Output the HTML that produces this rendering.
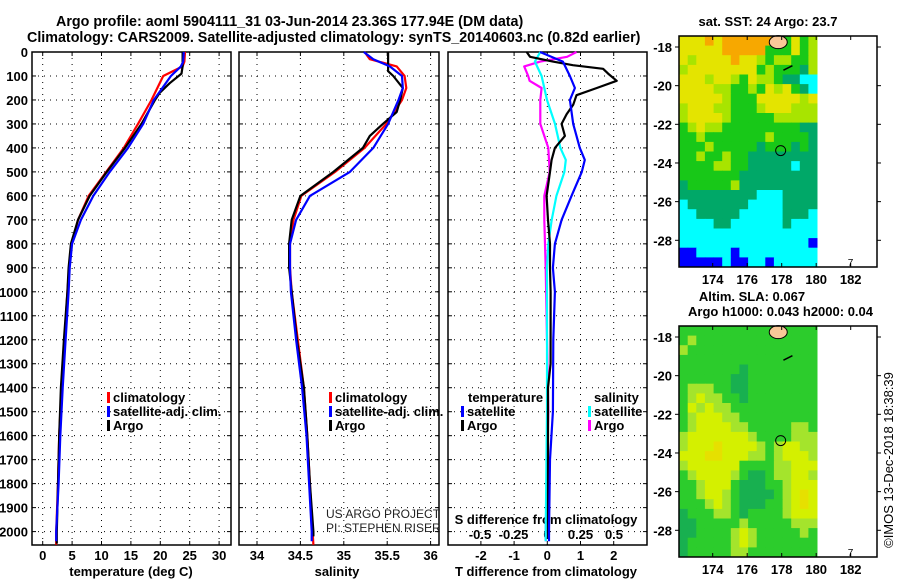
<!DOCTYPE html>
<html><head><meta charset="utf-8"><style>
html,body{margin:0;padding:0;background:#fff;}
svg{display:block;font-family:"Liberation Sans",Arial,sans-serif;}
.b{font-weight:bold;}
</style></head><body>
<svg id="fig" width="900" height="580" viewBox="0 0 900 580" xmlns="http://www.w3.org/2000/svg">
<g class="b" font-size="14.3">
<text x="56" y="26">Argo profile: aoml 5904111_31 03-Jun-2014 23.36S 177.94E (DM data)</text>
<text x="27" y="42">Climatology: CARS2009. Satellite-adjusted climatology: synTS_20140603.nc (0.82d earlier)</text>
</g>
<g id="plots"></g>
</svg>
<script>
// ---------- data ----------
const depthTicks=[0,100,200,300,400,500,600,700,800,900,1000,1100,1200,1300,1400,1500,1600,1700,1800,1900,2000];
const tempTicks=[0,5,10,15,20,25,30];
const salTicks=[34,34.5,35,35.5,36];
const salTickLabels=["34","34.5","35","35.5","36"];
const tdiffTicks=[-2,-1,0,1,2];
const sdiffTicks=[-0.5,-0.25,0,0.25,0.5];
const sdiffTickLabels=["-0.5","-0.25","0","0.25","0.5"];

const tArgoDepth=[0,50,60,90,130,170,200,300,400,500,600,700,800,900,1000,1200,1400,1600,1800,2000,2050];
const tArgo=[23.8,23.8,23.8,23.6,21.6,19.9,19.1,16.8,14.0,10.9,8.0,6.0,4.8,4.4,4.2,3.6,3.1,2.8,2.6,2.4,2.4];
const tClimDepth=[0,40,60,100,200,300,400,500,600,700,800,900,1000,1200,1400,1600,1800,2000,2055];
const tClim=[24.2,24.1,23.8,20.5,18.5,16.2,13.8,10.8,7.8,6.0,4.9,4.5,4.2,3.7,3.2,2.8,2.6,2.3,2.3];
const tSatDepth=[0,40,60,100,200,300,400,500,600,700,800,900,1000,1200,1400,1600,1800,2000,2040];
const tSat=[24.0,23.9,23.5,21.8,18.9,17.1,14.5,11.4,8.6,6.5,5.0,4.6,4.4,3.9,3.4,3.0,2.7,2.3,2.3];

const sArgoDepth=[0,80,100,150,200,250,300,350,400,500,600,700,800,900,1000,1200,1400,1600,1800,2000,2020];
const sArgo=[35.51,35.51,35.57,35.68,35.65,35.61,35.45,35.30,35.22,34.88,34.50,34.40,34.37,34.37,34.40,34.46,34.54,34.58,34.61,34.65,34.65];
const sClimDepth=[0,30,60,100,150,200,300,400,500,600,700,800,900,1000,1200,1400,1600,1800,2000,2055];
const sClim=[35.24,35.30,35.61,35.70,35.72,35.67,35.49,35.24,34.90,34.51,34.42,34.38,34.38,34.40,34.47,34.54,34.58,34.61,34.64,34.65];
const sSatDepth=[0,30,60,100,150,200,300,400,500,600,700,800,900,1000,1200,1400,1600,1800,2000,2040];
const sSat=[35.23,35.34,35.53,35.67,35.68,35.63,35.51,35.34,35.07,34.61,34.45,34.38,34.38,34.39,34.45,34.52,34.57,34.60,34.63,34.63];

const dTArgoDepth=[0,20,40,55,70,90,120,150,180,220,260,300,350,400,450,500,600,700,800,900,1000,1300,1400,2000,2030];
const dTArgo=[-0.62,-0.52,0.17,0.77,1.68,1.83,2.09,1.49,0.88,0.78,0.58,0.43,0.53,0.23,0.13,0.08,-0.02,0.02,0.08,0.08,0.1,0.1,0.02,0.02,0.02];
const dTSatDepth=[0,40,100,150,200,300,400,450,500,600,700,800,900,1000,1200,1500,1700,2000,2040];
const dTSat=[-0.22,0.47,0.68,0.83,0.68,0.78,0.98,1.13,1.04,0.73,0.43,0.23,0.17,0.23,0.18,0.17,0.08,0.05,0.05];
const dSSatDepth=[0,40,100,200,300,400,450,500,600,700,800,900,1500,2000,2040];
const dSSat=[-0.05,-0.09,-0.04,0,0.06,0.10,0.14,0.13,0.07,0.035,0.01,0,0,-0.01,-0.01];
const dSArgoDepth=[0,20,40,60,100,120,150,200,300,400,500,600,700,900,1500,2000,2040];
const dSArgo=[0.22,0.15,-0.05,-0.17,-0.14,-0.13,-0.04,-0.05,-0.05,0.01,0.02,-0.02,-0.02,-0.01,0.01,-0.01,-0.01];

const lonTicks=[174,176,178,180,182];
const latTicks=[-18,-20,-22,-24,-26,-28];
const sstGrid=[
"YYYOYOOOOOOGGYGy","YYYYYOOOOOGGGYGy","YyYYYYOYYyGyyGGy","yYYYYYYYYGyGGGgy",
"YYYyYYyGYyyGggCC","YYYYyyGGyGYyYGgC","YYYYYyGGGYYYYYyY","yYYYyyGGGyYYYyyy",
"yYYYYyGGGGGyyyyy","GyYyyGGGGGGGGGgg","GGyGGGGGGGyGGGGg","GGGyGGGGGgGGGgGg",
"GGyGGyGGgggggggg","GGGGyyGGgggggCgg","GGGGGGGggggggggg","gGGGGGyggggggggg",
"gggggggggCCCgggg","CgggggggCCCCgggg","CCgggggCCCCCgggC","CCCCggCCCCCCgCCC",
"CCCCCCCCCCCCCCCC","CCCCCCCCCCCCCCCB","BBCCCCBCCCCCCCCC","BBBBBCBBCCBCCCCC"];
const slaGrid=[
"GGGGGGGGGGGGGGGG","GyGGGGGGGGGGGGGG","yGGGGGGGGGGGGGGG","GGGGGGGGGGGGGGGG",
"GGGGGGGgGGGGGGGG","GGGGGGggGGGGGGGG","GyyyGGggGGGGGGGG","GyYyyGGgGGGGGGGG",
"GYyYyyGGGGGGGGGG","GyYYYyyGGGGGGGGG","GyYYYYyyGGGGGyyG","yYYYYYYYyGGGGyyy",
"yYYYoYYYYyGyYYyy","YYYooYYYyyGyYYYy","yYYYYYYGGGGyyYYY","GyYYYYyGggGyyYYy",
"GGyYYYGgggGGyYYY","GGyYYyGggggGyYoY","GGGyYyGgggGGyYoY","gGGGyyGgGGGGyYYY",
"ggGGGGGyGGGGGyyy","ggGGGGyYyGGGGGyG","gGGGGGyYyGGGGGGG","gGGGGGyyGGGGGGGG"];
const argoLon=177.94, argoLat=-23.36;

// ---------- drawing ----------
const NS="http://www.w3.org/2000/svg";
const root=document.getElementById('plots');
function el(tag,attrs,parent){const e=document.createElementNS(NS,tag);for(const k in attrs)e.setAttribute(k,attrs[k]);(parent||root).appendChild(e);return e;}
function txt(s,attrs,parent){const e=el('text',attrs,parent);e.textContent=s;return e;}

const yTop=52, pxPer100=23.98;
const yD=d=>yTop+d/100*pxPer100;
const yBot=545;

function profile(g,xs,ds,xf,color,w){
  const pts=xs.map((v,i)=>xf(v).toFixed(1)+','+yD(ds[i]).toFixed(1)).join(' ');
  return el('polyline',{points:pts,fill:'none',stroke:color,'stroke-width':w||2.2,'stroke-linejoin':'round'},g);
}
function panelFrame(g,x0,x1,xticks,xf){
  depthTicks.forEach(d=>{const y=yD(d);
    const l=el('line',{x1:x0,x2:x1,y1:y,y2:y,stroke:'#000','stroke-width':1,'stroke-dasharray':'1,5'},g);
    
    el('line',{x1:x0,x2:x0+4,y1:y,y2:y,stroke:'#000'},g);el('line',{x1:x1-4,x2:x1,y1:y,y2:y,stroke:'#000'},g);});
  xticks.forEach(v=>{const x=xf(v);
    const l=el('line',{x1:x,x2:x,y1:yTop,y2:yBot,stroke:'#000','stroke-width':1,'stroke-dasharray':'1,5'},g);
    
    el('line',{x1:x,x2:x,y1:yBot-4,y2:yBot,stroke:'#000'},g);el('line',{x1:x,x2:x,y1:yTop,y2:yTop+4,stroke:'#000'},g);});
  const r=el('rect',{x:x0,y:yTop,width:x1-x0,height:yBot-yTop,fill:'none',stroke:'#000','stroke-width':1.5},g);
  
}
function legendItem(g,x,y,color,label,name){
  const m=el('rect',{x:x,y:y-10,width:3,height:11,fill:color},g);
  
  const t=txt(label,{x:x+6,y:y,'font-size':13,'font-weight':'bold'},g);
  
}

// Panel 1 temperature
const xT=v=>42.7+v*5.88;
const g1=el('g',{});


panelFrame(g1,32,231,tempTicks,xT);
depthTicks.forEach(d=>{const t=txt(String(d),{x:28,y:yD(d)+5,'text-anchor':'end','font-size':13,'font-weight':'bold'},g1);
  });
tempTicks.forEach(v=>{const t=txt(String(v),{x:xT(v),y:560,'text-anchor':'middle','font-size':13,'font-weight':'bold'},g1);
  });
const tx1=txt('temperature (deg C)',{x:131,y:576,'text-anchor':'middle','font-size':13,'font-weight':'bold'},g1);

let p;
p=profile(g1,tClim,tClimDepth,xT,'#f00');
p=profile(g1,tArgo,tArgoDepth,xT,'#000');
p=profile(g1,tSat,tSatDepth,xT,'#00f');
legendItem(g1,107,402,'#f00','climatology','legend-climatology');
legendItem(g1,107,416,'#00f','satellite-adj. clim.','legend-satellite');
legendItem(g1,107,430,'#000','Argo','legend-argo');

// Panel 2 salinity
const xS=v=>257+(v-34)*86.8;
const g2=el('g',{});


panelFrame(g2,239,439,salTicks,xS);
salTicks.forEach((v,i)=>{const t=txt(salTickLabels[i],{x:xS(v),y:560,'text-anchor':'middle','font-size':13,'font-weight':'bold'},g2);
  });
const tx2=txt('salinity',{x:337,y:576,'text-anchor':'middle','font-size':13,'font-weight':'bold'},g2);

p=profile(g2,sClim,sClimDepth,xS,'#f00');
p=profile(g2,sArgo,sArgoDepth,xS,'#000');
p=profile(g2,sSat,sSatDepth,xS,'#00f');
legendItem(g2,329,402,'#f00','climatology','legend2-climatology');
legendItem(g2,329,416,'#00f','satellite-adj. clim.','legend2-satellite');
legendItem(g2,329,430,'#000','Argo','legend2-argo');
const cr1=txt('US ARGO PROJECT',{x:326,y:518,'font-size':12,fill:'#222'},g2);

const cr2=txt('PI: STEPHEN RISER',{x:326,y:532,'font-size':12,fill:'#222'},g2);


// Panel 3 differences
const xDT=v=>547.3+v*33.2;
const xDS=v=>547+v*134;
const g3=el('g',{});


panelFrame(g3,448,647,tdiffTicks,xDT);
tdiffTicks.forEach(v=>{const t=txt(String(v),{x:xDT(v),y:560,'text-anchor':'middle','font-size':13,'font-weight':'bold'},g3);
  });
sdiffTicks.forEach((v,i)=>{const t=txt(sdiffTickLabels[i],{x:xDS(v),y:539,'text-anchor':'middle','font-size':13,'font-weight':'bold'},g3);
  });
const tx3=txt('T difference from climatology',{x:546,y:576,'text-anchor':'middle','font-size':13,'font-weight':'bold'},g3);

const tx4=txt('S difference from climatology',{x:546,y:524,'text-anchor':'middle','font-size':13,'font-weight':'bold'},g3);

p=profile(g3,dSArgo,dSArgoDepth,xDS,'#f0f');
p=profile(g3,dSSat,dSSatDepth,xDS,'#0ff');
p=profile(g3,dTArgo,dTArgoDepth,xDT,'#000');
p=profile(g3,dTSat,dTSatDepth,xDT,'#00f');
const lt=txt('temperature',{x:468,y:402,'font-size':13,'font-weight':'bold'},g3);

legendItem(g3,461,416,'#00f','satellite','legend3-t-satellite');
legendItem(g3,461,430,'#000','Argo','legend3-t-argo');
const ls=txt('salinity',{x:594,y:402,'font-size':13,'font-weight':'bold'},g3);

legendItem(g3,588,416,'#0ff','satellite','legend3-s-satellite');
legendItem(g3,588,430,'#f0f','Argo','legend3-s-argo');

// Maps
const sstColors={O:'#f7a800',Y:'#e4e400',y:'#a8e400',G:'#18c818',g:'#00a868',C:'#00ffff',B:'#0000ff'};
const slaColors={Y:'#d4f000',y:'#a4e42c',o:'#e6e000',G:'#2ccc2c',g:'#18b050'};
function drawMap(name,top,grid,colors){
  const g=el('g',{});
  
  
  const left=679,right=877,bottom=top+231;
  const lonX=l=>712.7+(l-174)*17.25;
  const latY=l=>top+11+(-18-l)*19.33;
  const lon0=172.05,lon1=180.05,lat0=-17.43,lat1=-29.38;
  const nr=grid.length,nc=grid[0].length;
  const cw=(lonX(lon1)-lonX(lon0))/nc, ch=(latY(lat1)-latY(lat0))/nr;
  grid.forEach((row,r)=>{[...row].forEach((c,k)=>{
    const cell=el('rect',{x:(lonX(lon0)+k*cw).toFixed(1),y:(latY(lat0)+r*ch).toFixed(1),width:(cw+0.5).toFixed(1),height:(ch+0.5).toFixed(1),fill:colors[c]},g);
    
    
  });});
  const land=el('ellipse',{cx:lonX(177.8),cy:latY(-17.75),rx:9,ry:6.5,fill:'#f9c898',stroke:'#000','stroke-width':1},g);
  
  el('path',{d:`M${lonX(178.1)} ${latY(-19.2)} l5 -2.5 l4 -2`,stroke:'#000','stroke-width':1.5,fill:'none'},g);
  el('rect',{x:left,y:top,width:right-left,height:bottom-top,fill:'none',stroke:'#000','stroke-width':1.5},g);
  const m=el('circle',{cx:lonX(argoLon),cy:latY(argoLat),r:5,fill:'none',stroke:'#000','stroke-width':1},g);
  
  lonTicks.forEach(l=>{const x=lonX(l);
    el('line',{x1:x,x2:x,y1:bottom-4,y2:bottom,stroke:'#000'},g);el('line',{x1:x,x2:x,y1:top,y2:top+4,stroke:'#000'},g);
    const t=txt(String(l),{x:x,y:bottom+17,'text-anchor':'middle','font-size':13,'font-weight':'bold'},g);
    });
  latTicks.forEach(l=>{const y=latY(l);
    el('line',{x1:left-4,x2:left,y1:y,y2:y,stroke:'#000'},g);el('line',{x1:right,x2:right+4,y1:y,y2:y,stroke:'#000'},g);
    const t=txt(String(l),{x:left-7,y:y+5,'text-anchor':'end','font-size':13,'font-weight':'bold'},g);
    });
  txt('7',{x:lonX(182)-3,y:bottom-1,'font-size':10},g);
  return g;
}
drawMap('sst-map',36,sstGrid,sstColors);
drawMap('sla-map',326,slaGrid,slaColors);
const mt1=txt('sat. SST: 24 Argo: 23.7',{x:768,y:26,'text-anchor':'middle','font-size':13,'font-weight':'bold'});

const mt2=txt('Altim. SLA: 0.067',{x:752,y:301,'text-anchor':'middle','font-size':13,'font-weight':'bold'});

const mt3=txt('Argo h1000: 0.043 h2000: 0.04',{x:688,y:316,'font-size':13,'font-weight':'bold'});

const cp=txt('©IMOS 13-Dec-2018 18:38:39',{x:0,y:0,'text-anchor':'middle','font-size':13,transform:'translate(893,460) rotate(-90)'});

</script>
</body></html>
